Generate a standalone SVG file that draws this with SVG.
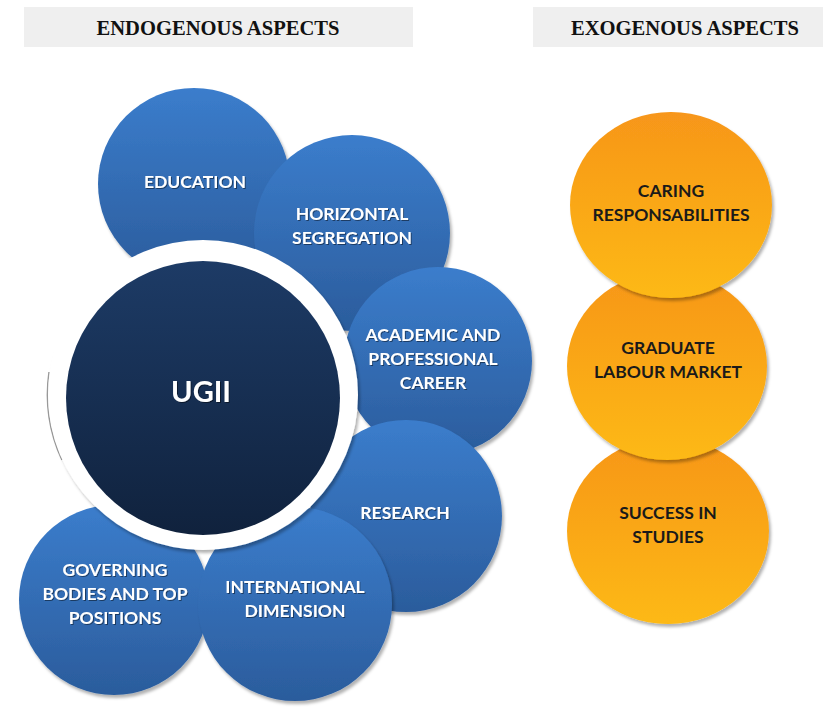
<svg xmlns="http://www.w3.org/2000/svg" width="823" height="710" viewBox="0 0 823 710">
  <defs>
    <linearGradient id="blueFill" x1="0" y1="0" x2="0" y2="1">
      <stop offset="0" stop-color="#3b7dcc"/>
      <stop offset="1" stop-color="#2b5c9c"/>
    </linearGradient>
    <linearGradient id="navyFill" x1="0" y1="0" x2="0" y2="1">
      <stop offset="0" stop-color="#1d3b66"/>
      <stop offset="1" stop-color="#10223d"/>
    </linearGradient>
    <linearGradient id="orangeFill" x1="0" y1="0" x2="0" y2="1">
      <stop offset="0" stop-color="#f7961a"/>
      <stop offset="1" stop-color="#fdb913"/>
    </linearGradient>
    <filter id="shadow" x="-10%" y="-10%" width="125%" height="125%">
      <feDropShadow dx="2" dy="3" stdDeviation="1.5" flood-color="#000" flood-opacity="0.3"/>
    </filter>
    <filter id="textShadow" x="-10%" y="-20%" width="120%" height="150%">
      <feDropShadow dx="1" dy="1" stdDeviation="0.6" flood-color="#000" flood-opacity="0.45"/>
    </filter>
  </defs>
  <style>
    .hdr { fill: #efefef; }
    .hdrText { font-family: "Liberation Serif", "Times New Roman", serif; font-weight: bold; font-size: 21px; fill: #111; text-anchor: middle; }
    .blue { fill: url(#blueFill); filter: url(#shadow); }
    .orange { fill: url(#orangeFill); filter: url(#shadow); }
    .lbl { font-family: Lato, "Open Sans", sans-serif; font-weight: bold; font-size: 17.5px; text-anchor: middle; }
    .lblW { fill: #ffffff; filter: url(#textShadow); }
    .lblD { fill: #1a1a1a; }
  </style>

  <rect width="823" height="710" fill="#ffffff"/>

  <!-- column headings -->
  <g id="header-endogenous">
    <rect class="hdr" x="24" y="7" width="389" height="40"/>
    <text class="hdrText" x="218" y="35" textLength="243" lengthAdjust="spacingAndGlyphs">ENDOGENOUS ASPECTS</text>
  </g>
  <g id="header-exogenous">
    <rect class="hdr" x="533" y="7" width="290" height="40"/>
    <text class="hdrText" x="685" y="35" textLength="228" lengthAdjust="spacingAndGlyphs">EXOGENOUS ASPECTS</text>
  </g>

  <!-- endogenous circles, back to front -->
  <g id="education">
    <circle class="blue" cx="194" cy="184" r="96"/>
    <text class="lbl lblW" x="195" y="188">EDUCATION</text>
  </g>
  <g id="horizontal-segregation">
    <circle class="blue" cx="352" cy="233" r="98"/>
    <text class="lbl lblW" x="352" y="220">HORIZONTAL</text>
    <text class="lbl lblW" x="352" y="244">SEGREGATION</text>
  </g>
  <g id="academic-career">
    <circle class="blue" cx="438" cy="361" r="94"/>
    <text class="lbl lblW" x="433" y="341">ACADEMIC AND</text>
    <text class="lbl lblW" x="433" y="365">PROFESSIONAL</text>
    <text class="lbl lblW" x="433" y="389">CAREER</text>
  </g>
  <g id="research">
    <circle class="blue" cx="406" cy="516" r="96"/>
    <text class="lbl lblW" x="405" y="519">RESEARCH</text>
  </g>
  <g id="governing-bodies">
    <circle class="blue" cx="114" cy="600" r="95"/>
    <text class="lbl lblW" x="115" y="576">GOVERNING</text>
    <text class="lbl lblW" x="115" y="600">BODIES AND TOP</text>
    <text class="lbl lblW" x="115" y="624">POSITIONS</text>
  </g>
  <g id="international-dimension">
    <circle class="blue" cx="295" cy="604" r="97"/>
    <text class="lbl lblW" x="295" y="593">INTERNATIONAL</text>
    <text class="lbl lblW" x="295" y="617">DIMENSION</text>
  </g>

  <!-- central node -->
  <g id="ugii">
    <path d="M 49 372 A 157 157 0 0 0 62 460" fill="none" stroke="#9a9a9a" stroke-width="1.5"/>
    <circle cx="203" cy="395" r="155" fill="#ffffff" filter="url(#shadow)"/>
    <circle cx="203" cy="398" r="137" fill="url(#navyFill)"/>
    <text x="201" y="402" font-family="Lato, 'Open Sans', sans-serif" font-weight="bold" font-size="29" fill="#ffffff" text-anchor="middle" filter="url(#textShadow)">UGII</text>
  </g>

  <!-- exogenous circles, back to front -->
  <g id="success-in-studies">
    <ellipse class="orange" cx="668" cy="531" rx="101" ry="93"/>
    <text class="lbl lblD" x="668" y="519">SUCCESS IN</text>
    <text class="lbl lblD" x="668" y="543">STUDIES</text>
  </g>
  <g id="graduate-labour-market">
    <ellipse class="orange" cx="667" cy="366" rx="100" ry="94"/>
    <text class="lbl lblD" x="668" y="354">GRADUATE</text>
    <text class="lbl lblD" x="668" y="378">LABOUR MARKET</text>
  </g>
  <g id="caring-responsabilities">
    <ellipse class="orange" cx="671" cy="205" rx="101" ry="93"/>
    <text class="lbl lblD" x="671" y="197">CARING</text>
    <text class="lbl lblD" x="671" y="221">RESPONSABILITIES</text>
  </g>
</svg>
